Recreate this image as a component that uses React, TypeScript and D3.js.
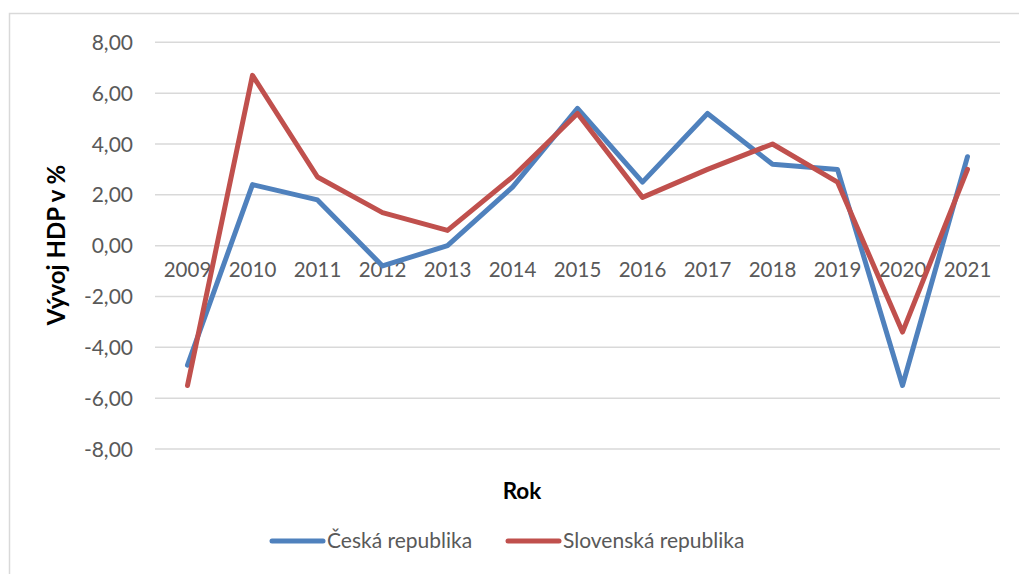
import React from "react";
import * as d3 from "d3";

const years = ["2009","2010","2011","2012","2013","2014","2015","2016","2017","2018","2019","2020","2021"];
const czech = [-4.7, 2.4, 1.8, -0.8, 0.0, 2.3, 5.4, 2.5, 5.2, 3.2, 3.0, -5.5, 3.5];
const slovak = [-5.5, 6.7, 2.7, 1.3, 0.6, 2.7, 5.2, 1.9, 3.0, 4.0, 2.5, -3.4, 3.0];
const yTicks = [-8, -6, -4, -2, 0, 2, 4, 6, 8];
const seriesNames = ["Česká republika", "Slovenská republika"];
const colors = ["#4F81BD", "#C0504D"];

const FONT = "Lato, 'Open Sans', sans-serif";

export default function App() {
  const x = d3.scaleBand<string>().domain(years).range([155, 1000]).padding(0);
  const y = d3.scaleLinear().domain([-8, 8]).range([449, 42.3]);
  const cx = (d: string) => (x(d) as number) + x.bandwidth() / 2;
  const line = d3.line<number>().x((_, i) => cx(years[i])).y((v) => y(v));
  const fmt = (v: number) => v.toFixed(2).replace(".", ",");
  const series = [czech, slovak];
  const legendX = [272, 508];

  return (
    <svg width={1019} height={574} style={{ position: "absolute", left: 0, top: 0, background: "#fff" }}>
      <rect x={9.5} y={13.5} width={1030} height={600} fill="#fff" stroke="#d9d9d9" strokeWidth={1.5} />
      {yTicks.map((t) => (
        <g key={t}>
          <line x1={155} x2={1000} y1={y(t)} y2={y(t)} stroke="#d9d9d9" strokeWidth={1.5} />
          <text x={133} y={y(t)} dy="0.36em" textAnchor="end" fontFamily={FONT} fontSize={21} fill="#595959">
            {fmt(t)}
          </text>
        </g>
      ))}
      {years.map((yr) => (
        <text key={yr} x={cx(yr)} y={277} textAnchor="middle" fontFamily={FONT} fontSize={20.5} fill="#595959">
          {yr}
        </text>
      ))}
      {series.map((s, i) => (
        <path key={i} d={line(s) || ""} fill="none" stroke={colors[i]} strokeWidth={5} strokeLinejoin="round" strokeLinecap="round" />
      ))}
      <text transform="translate(65,245) rotate(-90)" textAnchor="middle" fontFamily={FONT} fontWeight="bold" fontSize={24} fill="#000">
        Vývoj HDP v %
      </text>
      <text x={522} y={499} textAnchor="middle" fontFamily={FONT} fontWeight="bold" fontSize={22.5} fill="#000">
        Rok
      </text>
      {seriesNames.map((n, i) => (
        <g key={n}>
          <line x1={legendX[i]} x2={legendX[i] + 51} y1={541} y2={541} stroke={colors[i]} strokeWidth={5} strokeLinecap="round" />
          <text x={legendX[i] + 55} y={548} fontFamily={FONT} fontSize={21} fill="#595959">
            {n}
          </text>
        </g>
      ))}
    </svg>
  );
}
